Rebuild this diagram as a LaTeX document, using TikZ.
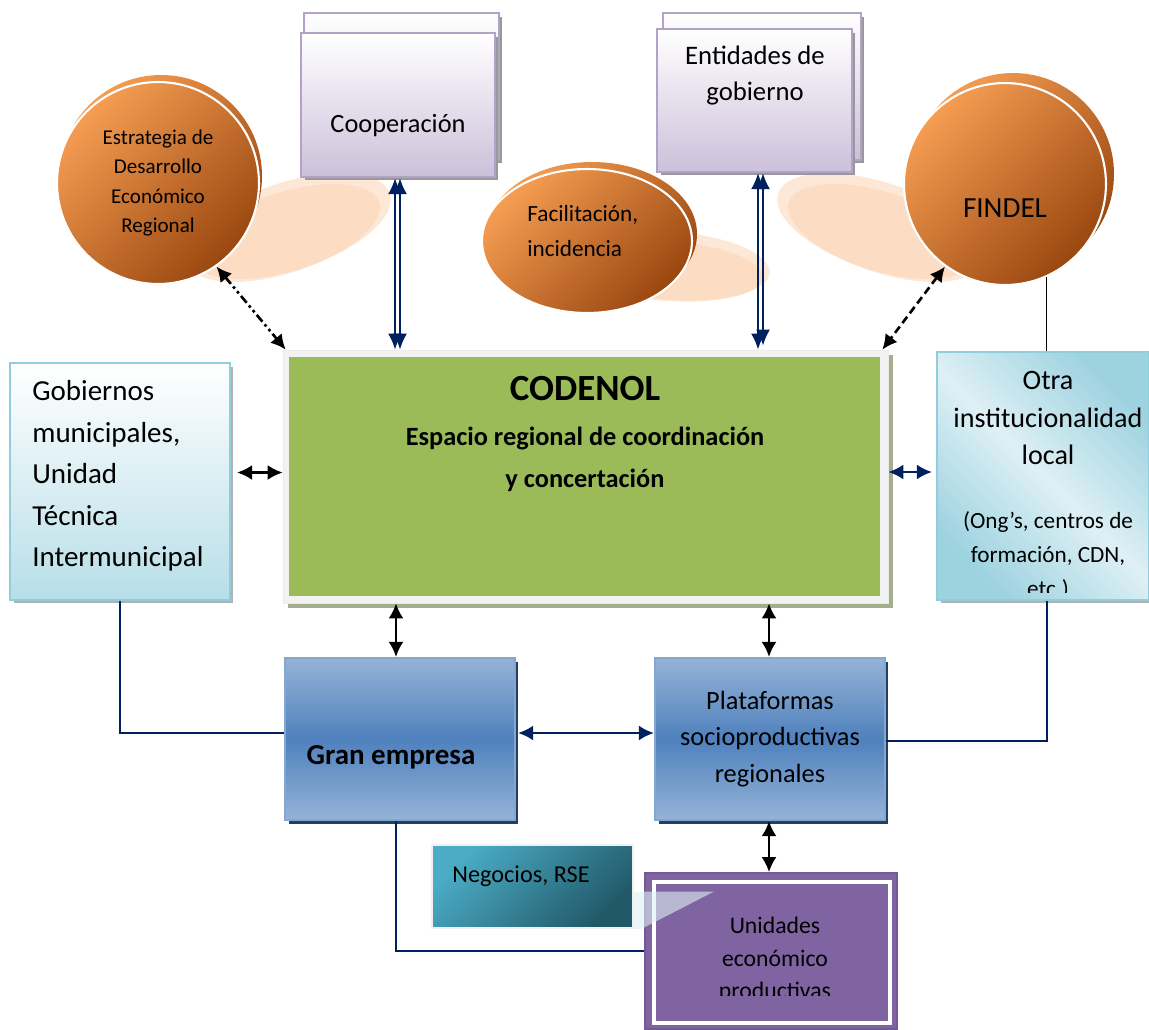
\documentclass[tikz,border=0pt]{standalone}
\usepackage{fontspec}
\setmainfont{Carlito}
\usetikzlibrary{arrows.meta,shapes.geometric,shadows}

\definecolor{navyarr}{HTML}{002060}
\definecolor{orangeL}{HTML}{F59D52}
\definecolor{orangeD}{HTML}{9A4710}
\definecolor{peach}{HTML}{FBD4B4}
\definecolor{lilacB}{HTML}{B3A2C7}
\definecolor{lilacF}{HTML}{CCC0DA}
\definecolor{codgreen}{HTML}{9BBB59}
\definecolor{codframe}{HTML}{F2F2F2}
\definecolor{codshadow}{HTML}{A4AE8E}
\definecolor{skyB}{HTML}{92CDDC}
\definecolor{skyF}{HTML}{B7DEE8}
\definecolor{skyL}{HTML}{DEF0F5}
\definecolor{blueL}{HTML}{95B3D7}
\definecolor{blueM}{HTML}{4F81BD}
\definecolor{blueS}{HTML}{243F60}
\definecolor{tealL}{HTML}{4BACC6}
\definecolor{tealD}{HTML}{215968}
\definecolor{uniP}{HTML}{8064A2}

\begin{document}
\begin{tikzpicture}[x=0.02cm, y=-0.02cm,
    ball/.style={circle, draw=white, line width=1.2pt, top color=orangeL, bottom color=orangeD, shading angle=45, inner sep=0pt},
    lilacbox/.style={rectangle, draw=lilacB, line width=1.2pt, top color=white, bottom color=lilacF, inner sep=0pt, drop shadow={shadow xshift=0.07cm, shadow yshift=-0.07cm, fill=black!40, opacity=1}},
    skybox/.style={rectangle, draw=skyB, line width=1.2pt, inner sep=0pt, drop shadow={shadow xshift=0.07cm, shadow yshift=-0.07cm, fill=black!30, opacity=1}},
    bluebox/.style={rectangle, draw=blueM!70!white, line width=1.2pt, top color=blueL, bottom color=blueL, middle color=blueM, inner sep=0pt, drop shadow={shadow xshift=0.07cm, shadow yshift=-0.07cm, fill=blueS, opacity=1}},
    twoway/.style={arrows={Latex[length=0.3cm,width=0.3cm]-Latex[length=0.3cm,width=0.3cm]}, line width=1.5pt},
    thinway/.style={arrows={Latex[length=0.32cm,width=0.28cm]-Latex[length=0.32cm,width=0.28cm]}, line width=1.3pt, navyarr},
    link/.style={navyarr, line width=0.9pt}]
    \useasboundingbox (0,0) rectangle (1149,1029);

    %shadow ellipses
    \fill [peach, opacity=0.55, rotate around={18:(290,226)}] (290,226) ellipse [x radius=105, y radius=44];
    \fill [peach, opacity=0.55, rotate around={18:(284,233)}] (284,233) ellipse [x radius=100, y radius=40];
    \fill [peach, opacity=0.55, rotate around={-18:(878,226)}] (878,226) ellipse [x radius=105, y radius=44];
    \fill [peach, opacity=0.55, rotate around={-18:(884,233)}] (884,233) ellipse [x radius=100, y radius=40];
    \fill [peach, opacity=0.55, rotate around={-4:(672,266)}] (672,266) ellipse [x radius=98, y radius=34];
    \fill [peach, opacity=0.55, rotate around={-4:(668,271)}] (668,271) ellipse [x radius=95, y radius=30];

    %back shapes
    \shade [top color=orangeL, bottom color=orangeD, shading angle=45] (161,176) circle [radius=101];
    \shade [top color=orangeL, bottom color=orangeD, shading angle=45] (1013,174) circle [radius=101];
    \shade [top color=orangeL, bottom color=orangeD, shading angle=45] (592,234) ellipse [x radius=105, y radius=72];
    \node [lilacbox, minimum width=3.9cm, minimum height=2.94cm] (coopback) at (401.5,86.5) {};
    \node [lilacbox, minimum width=3.96cm, minimum height=2.94cm] (entback) at (762,86.5) {};

    %top row
    \node [ball, minimum size=4.04cm, align=center, font=\fontsize{12}{16.8}\selectfont] (est) at (158,183) {Estrategia de\\Desarrollo\\Económico\\Regional};
    \node [ball, minimum size=4.04cm] (findel) at (1005,184) {};
    \node [font=\fontsize{16.6}{20}\selectfont] (findeltxt) at (1005,208) {FINDEL};
    \node [ellipse, draw=white, line width=1.2pt, top color=orangeL, bottom color=orangeD, shading angle=45, minimum width=4.2cm, minimum height=2.88cm] (fac) at (587,241) {};
    \node [anchor=west, align=left, inner sep=0pt, font=\fontsize{13.2}{19.9}\selectfont] (factxt) at (527,231) {Facilitación,\\incidencia};
    \node [lilacbox, minimum width=3.88cm, minimum height=2.88cm] (coop) at (398,105) {};
    \node [font=\fontsize{15}{18}\selectfont] (cooptxt) at (398,126) {Cooperación};
    \node [lilacbox, minimum width=3.9cm, minimum height=2.86cm] (ent) at (754.5,100.5) {};
    \node [align=center, font=\fontsize{15.2}{20.5}\selectfont] (enttxt) at (755,76) {Entidades de\\gobierno};

    %middle row
    \node [rectangle, fill=codframe, draw=black!8, inner sep=0pt, minimum width=12.1cm, minimum height=5.06cm, drop shadow={shadow xshift=0.1cm, shadow yshift=-0.1cm, fill=codshadow, opacity=1}] (codenol) at (585.5,476.5) {};
    \fill [codgreen] ([shift={(6,7)}]codenol.north west) rectangle ([shift={(-8,-7)}]codenol.south east);
    \node [font=\fontsize{21}{25}\selectfont\bfseries] (codtitle) at (585,389) {CODENOL};
    \node [align=center, font=\fontsize{15}{23.9}\selectfont\bfseries] (codsub) at (585,459) {Espacio regional de coordinación\\y concertación};

    \node [skybox, top color=white, bottom color=skyF, minimum width=4.4cm, minimum height=4.74cm] (gob) at (120,481.5) {};
    \node [anchor=west, align=left, inner sep=0pt, font=\fontsize{16.5}{23.6}\selectfont] (gobtxt) at (32,476) {Gobiernos\\municipales,\\Unidad\\Técnica\\Intermunicipal};

    \node [skybox, top color=skyB!90, bottom color=skyB!90, middle color=skyL, shading angle=-45, minimum width=4.24cm, minimum height=4.96cm] (otra) at (1043,476) {};
    \node [align=center, font=\fontsize{16}{21.3}\selectfont] (otratxt) at (1048,418) {Otra\\institucionalidad\\local};
    \begin{scope}
        \clip (otra.north west) rectangle ([shift={(0,-9)}]otra.south east);
        \node [align=center, font=\fontsize{13.2}{19.3}\selectfont] (otrasub) at (1048,556) {(Ong’s, centros de\\formación, CDN,\\etc.)};
    \end{scope}

    %bottom row
    \node [bluebox, minimum width=4.6cm, minimum height=3.24cm] (gran) at (400,739) {};
    \node [font=\fontsize{16.5}{20}\selectfont\bfseries] (grantxt) at (391,757) {Gran empresa};
    \node [bluebox, minimum width=4.6cm, minimum height=3.24cm, align=center, font=\fontsize{15}{21}\selectfont] (plat) at (770,739) {Plataformas\\socioproductivas\\regionales};

    \node [rectangle, draw=black!6, line width=1.2pt, top color=tealL, bottom color=tealD, shading angle=45, minimum width=4.02cm, minimum height=1.66cm] (neg) at (532.5,886.5) {};
    \node [font=\fontsize{13.8}{17}\selectfont] (negtxt) at (521,876) {Negocios, RSE};

    \node [rectangle, fill=uniP, draw=uniP!90!black, line width=1pt, minimum width=5.04cm, minimum height=3.12cm] (uni) at (771,951) {};
    \draw [white, line width=2pt] ([shift={(10,10)}]uni.north west) rectangle ([shift={(-8,-7)}]uni.south east);
    \begin{scope}
        \clip (uni.north west) rectangle ([shift={(0,-34)}]uni.south east);
        \node [align=center, font=\fontsize{13.5}{18.5}\selectfont] (unitxt) at (775,960) {Unidades\\económico\\productivas};
    \end{scope}
    %callout
    \fill [skyL, opacity=0.6] ([shift={(0,5)}]neg.east) -- ++(80,0) -- ([shift={(7,0)}]neg.south east) -- (neg.south east) -- cycle;

    %arrows to CODENOL
    \draw [twoway, dash pattern=on 5pt off 2pt on 1.5pt off 2pt on 1.5pt off 2pt] (est.-55) -- ([shift={(3,0)}]codenol.north west);
    \draw [twoway, dash pattern=on 4.5pt off 2.5pt] (findel.234) -- ([shift={(-6,0)}]codenol.north east);
    \draw [thinway] ([shift={(-3,0)}]coop.south) -- ([shift={(-3,0)}]coop.south |- codenol.north);
    \draw [thinway] ([shift={(2,0)}]coop.south) -- ([shift={(2,0)}]coop.south |- codenol.north);
    \draw [thinway] ([shift={(3.5,0)}]ent.south) -- ([shift={(3.5,0)}]ent.south |- codenol.north);
    \draw [thinway] ([shift={(8.5,0)}]ent.south) -- ([shift={(8.5,-4)}]ent.south |- codenol.north);
    \draw [twoway] ([shift={(6,-9)}]gob.east) -- ([shift={(0,-9)}]gob.east -| codenol.west);
    \draw [twoway, navyarr] ([shift={(-4,-4)}]otra.west) -- ([shift={(0,-4)}]otra.west -| codenol.east);
    \draw [twoway] ([shift={(-4,0)}]gran.north) -- ([shift={(-4,0)}]gran.north |- codenol.south);
    \draw [twoway] ([shift={(-1,0)}]plat.north) -- ([shift={(-1,0)}]plat.north |- codenol.south);
    \draw [twoway, navyarr] ([shift={(2,-6)}]gran.east) -- ([shift={(0,-6)}]gran.east -| plat.west);
    \draw [twoway] ([shift={(-1,0)}]plat.south) -- ([shift={(-1,0)}]plat.south |- uni.north);

    %plain links
    \draw [link] (gob.south) |- ([shift={(0,-6)}]gran.west);
    \draw [link] ([shift={(4,0)}]otra.south) |- ([shift={(0,2)}]plat.east);
    \draw [link] ([shift={(-4,0)}]gran.south) |- (uni.west);
    \draw [line width=0.9pt] (findel.-66) -- (findel.-66 |- otra.north);
\end{tikzpicture}
\end{document}
